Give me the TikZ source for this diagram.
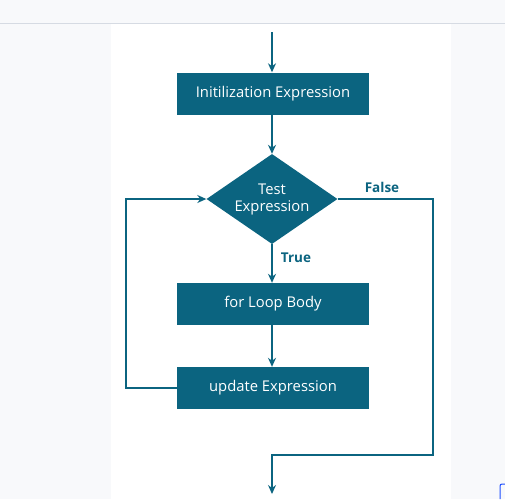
\documentclass[tikz,border=0pt]{standalone}
\usepackage{fontspec}
\setmainfont{Open Sans}
\usetikzlibrary{shapes.geometric,arrows.meta}
\definecolor{flow}{HTML}{0B6480}
\definecolor{page}{HTML}{F8F9FB}
\definecolor{rule}{HTML}{D6DBE3}
\definecolor{tab}{HTML}{1F4FFF}

\begin{document}
\begin{tikzpicture}[x=1pt,y=-1pt,
  block/.style={rectangle, fill=flow, text=white, minimum width=192pt, minimum height=42pt, inner sep=0pt, font=\fontsize{14.8}{17}\selectfont},
  decision/.style={diamond, fill=flow, text=white, minimum width=131pt, minimum height=90pt, aspect=1.46, inner sep=0pt, align=center, font=\fontsize{14.8}{17}\selectfont},
  link/.style={draw=flow, line width=1.3pt},
  tag/.style={text=flow, font=\fontsize{13.5}{15}\selectfont\bfseries}]
\useasboundingbox (0,0) rectangle (505,499);
% page
\fill [page] (0,0) rectangle (505,499);
\fill [white] (111,23) rectangle (451,499);
\draw [rule, line width=1pt] (0,23) -- (505,23);
\draw [tab, line width=1pt, rounded corners=2pt] (500,499) -- (500,484) -- (505,484);
% nodes
\node [block] (init) at (273,93.5) {Initilization Expression};
\node [decision] (test) at (272,199) {Test\\Expression};
\node [block] (body) at (273,304) {for Loop Body};
\node [block] (update) at (273,388) {update Expression};
\node [tag] (true) at (296,258) {True};
\node [tag] (false) at (382,187) {False};
\coordinate (start) at (272,32);
\coordinate (exit) at (272,494);
% arrows
\draw [link,-{Stealth[length=9pt,width=8pt]}] (start) -- (init.north -| start);
\draw [link,-{Stealth[length=9pt,width=8pt]}] (init.south -| test) -- (test.north);
\draw [link,-{Stealth[length=9pt,width=8pt]}] (test.south) -- (body.north -| test);
\draw [link,-{Stealth[length=9pt,width=8pt]}] (body.south -| test) -- (update.north -| test);
\draw [link,-{Stealth[length=9pt,width=8pt]}] (update.west) -- (126,388) -- (126,199) -- (test.west);
\draw [link,-{Stealth[length=9pt,width=8pt]}] (test.east) -- (433,199) -- (433,455) -- (272,455) -- (exit);
\end{tikzpicture}
\end{document}
